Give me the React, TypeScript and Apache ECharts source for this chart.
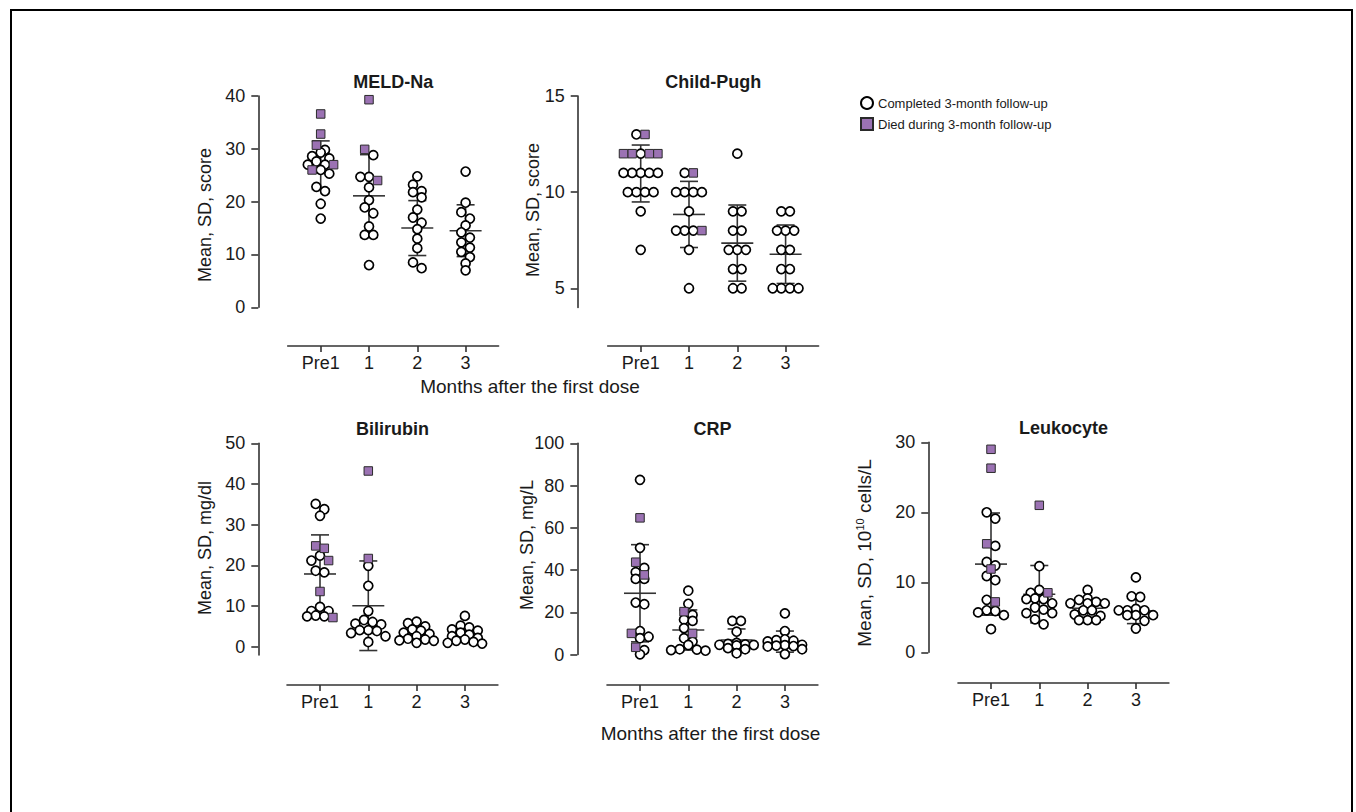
import React, { useEffect, useRef } from 'react';
import * as echarts from 'echarts';

const GROUPS = ['Pre1', '1', '2', '3'];
const COMPLETED = 'Completed 3-month follow-up';
const DIED = 'Died during 3-month follow-up';
const X_NAME = 'Months after the first dose';

// ---------- MELD-Na ----------
const meldCompleted = [
  [29.8, 29.3, 28.6, 28.2, 27.6, 27.0, 27.0, 26.0, 25.3, 22.8, 22.0, 19.6, 16.8],
  [28.8, 24.7, 24.7, 22.7, 20.3, 18.9, 17.8, 15.3, 13.7, 13.7, 8.0],
  [24.8, 23.2, 22.0, 21.8, 20.8, 18.5, 17.0, 16.0, 14.8, 13.0, 11.2, 8.5, 7.4],
  [25.7, 19.8, 18.0, 16.8, 15.5, 14.2, 13.2, 12.3, 11.3, 10.5, 9.5, 8.3, 7.0],
];
const meldDied = [[36.6, 32.8, 30.7, 27.0, 26.0], [39.3, 29.9, 24.0], [], []];
const meldMean = [26.9, 21.1, 15.0, 14.5];
const meldSD = [4.6, 7.8, 5.2, 4.9];

// ---------- Child-Pugh ----------
const cpCompleted = [
  [13, 12, 11, 11, 11, 11, 11, 10, 10, 10, 10, 9, 7],
  [11, 10, 10, 10, 10, 9, 8, 8, 8, 7, 5],
  [12, 9, 9, 8, 8, 7, 7, 7, 6, 6, 5, 5],
  [9, 9, 8, 8, 8, 7, 7, 6, 6, 5, 5, 5, 5],
];
const cpDied = [[13, 12, 12, 12, 12], [11, 8], [], []];
const cpMean = [10.97, 8.84, 7.35, 6.77];
const cpSD = [1.48, 1.72, 1.98, 1.52];

// ---------- Bilirubin ----------
const biliCompleted = [
  [35.1, 33.8, 32.2, 22.4, 21.2, 18.7, 18.3, 9.8, 8.8, 8.8, 7.7, 7.5, 7.5],
  [19.9, 15.0, 8.8, 6.6, 6.1, 5.7, 5.5, 4.1, 4.1, 3.9, 3.4, 2.6, 1.2],
  [6.2, 5.8, 5.0, 4.3, 4.0, 3.5, 3.2, 2.6, 2.0, 1.8, 1.6, 1.5, 1.0],
  [7.6, 5.2, 4.8, 4.3, 4.0, 3.5, 3.0, 2.6, 2.2, 1.8, 1.5, 1.2, 1.0, 0.8],
];
const biliDied = [[24.8, 24.2, 21.2, 13.6, 7.2], [43.2, 21.7], [], []];
const biliMean = [17.9, 10.1, 3.1, 3.0];
const biliSD = [9.6, 11.0, 1.6, 1.8];

// ---------- CRP ----------
const crpCompleted = [
  [82.7, 50.5, 41.0, 39.0, 35.8, 35.8, 24.6, 23.8, 11.1, 8.4, 7.7, 2.1, 0.1],
  [30.2, 24.0, 18.7, 16.5, 15.9, 12.5, 7.7, 6.1, 4.5, 2.5, 2.3, 2.1, 1.8],
  [15.9, 15.9, 10.8, 5.5, 5.0, 4.8, 4.6, 4.5, 4.3, 3.0, 2.5, 0.6],
  [19.5, 11.1, 7.2, 6.8, 6.5, 6.2, 4.6, 4.4, 4.2, 4.0, 3.8, 2.5, 0.2],
];
const crpDied = [[64.7, 43.7, 37.7, 10.0, 3.4], [20.3, 10.0], [], []];
const crpMean = [29.0, 11.6, 6.9, 6.1];
const crpSD = [23.0, 9.5, 5.2, 5.0];

// ---------- Leukocyte ----------
const leuCompleted = [
  [20.0, 19.1, 15.2, 12.9, 12.4, 10.9, 10.3, 7.5, 6.0, 5.9, 5.7, 5.3, 3.3],
  [12.3, 8.9, 8.5, 7.7, 7.6, 7.6, 7.0, 6.4, 6.1, 5.6, 5.6, 4.7, 4.0],
  [8.9, 7.7, 7.5, 7.2, 7.0, 7.0, 7.0, 6.0, 6.0, 5.4, 5.2, 4.6, 4.6, 4.6],
  [10.7, 8.0, 7.9, 6.2, 6.0, 6.0, 6.0, 5.3, 5.3, 5.3, 4.5, 3.4],
];
const leuDied = [[29.0, 26.3, 15.5, 11.9, 7.2], [21.0, 8.5], [], []];
const leuMean = [12.6, 8.3, 6.3, 5.9];
const leuSD = [7.3, 4.1, 1.3, 1.8];

const meldTicks = [0, 10, 20, 30, 40];
const cpTicks = [5, 10, 15];
const biliTicks = [0, 10, 20, 30, 40, 50];
const crpTicks = [0, 20, 40, 60, 80, 100];
const leuTicks = [0, 10, 20, 30];

const FONT = '"Liberation Sans", Arial, Helvetica, sans-serif';
const INK = '#1a1a1a';
const LINE = '#333333';
const PURPLE = '#9b72b3';
const COL = 48.3; // px between group centres
const PAD = 33; // px of x-axis beyond outer groups

const panels = [
  { title: 'MELD-Na', yName: 'Mean, SD, score', completed: meldCompleted, died: meldDied, mean: meldMean, sd: meldSD, min: 0, max: 40, ticks: meldTicks,
    axisX: 258.3, pre1: 320.7, top: 96, bottom: 307.3, xAxisY: 346, nameX: 205, nameY: 215 },
  { title: 'Child-Pugh', yName: 'Mean, SD, score', completed: cpCompleted, died: cpDied, mean: cpMean, sd: cpSD, min: 4, max: 15, ticks: cpTicks,
    axisX: 577.7, pre1: 640.7, top: 96, bottom: 307.5, xAxisY: 346, nameX: 533, nameY: 210 },
  { title: 'Bilirubin', yName: 'Mean, SD, mg/dl', completed: biliCompleted, died: biliDied, mean: biliMean, sd: biliSD, min: -2, max: 50, ticks: biliTicks,
    axisX: 258.3, pre1: 320, top: 443.3, bottom: 655, xAxisY: 685, nameX: 205, nameY: 548 },
  { title: 'CRP', yName: 'Mean, SD, mg/L', completed: crpCompleted, died: crpDied, mean: crpMean, sd: crpSD, min: 0, max: 100, ticks: crpTicks,
    axisX: 577.3, pre1: 640, top: 443.3, bottom: 654.5, xAxisY: 685, nameX: 527, nameY: 545 },
  { title: 'Leukocyte', yName: '', completed: leuCompleted, died: leuDied, mean: leuMean, sd: leuSD, min: 0, max: 30, ticks: leuTicks,
    axisX: 928.3, pre1: 991, top: 442.3, bottom: 652.3, xAxisY: 683, nameX: 864, nameY: 553 },
];

// Row-based dot layout (points with similar values share a centred row).
function dotRows(vals: number[], ppu: number, binPx: number, sep: number, maxRow: number): number[] {
  const order = vals.map((_, i) => i).sort((a, b) => vals[b] - vals[a]);
  const out: number[] = new Array(vals.length).fill(0);
  let row: number[] = [];
  const flush = () => {
    const n = row.length;
    const slots = Array.from({ length: n }, (_, k) => (k - (n - 1) / 2) * sep)
      .sort((a, b) => Math.abs(a) - Math.abs(b) || a - b);
    row.forEach((idx, k) => (out[idx] = slots[k]));
    row = [];
  };
  for (const i of order) {
    if (row.length && ((vals[row[0]] - vals[i]) * ppu > binPx || row.length >= maxRow)) flush();
    row.push(i);
  }
  if (row.length) flush();
  return out;
}

function buildOption() {
  const grid: any[] = [];
  const xAxis: any[] = [];
  const yAxis: any[] = [];
  const series: any[] = [];
  const graphic: any[] = [];
  const axisLineStyle = { color: LINE, width: 1.6 };
  const labelStyle = { fontSize: 18, fontFamily: FONT, color: INK };

  panels.forEach((p, i) => {
    const gridLeft = p.pre1 - PAD;
    const width = 3 * COL + 2 * PAD;
    const height = p.bottom - p.top;
    grid.push({ left: gridLeft, top: p.top, width, height, containLabel: false });
    xAxis.push({
      type: 'value', gridIndex: i, min: -PAD / COL, max: 3 + PAD / COL,
      offset: p.xAxisY - p.bottom,
      axisLine: { show: true, onZero: false, lineStyle: axisLineStyle },
      axisTick: { show: true, length: 6, customValues: [0, 1, 2, 3], lineStyle: axisLineStyle },
      axisLabel: { show: true, customValues: [0, 1, 2, 3], margin: 8, formatter: (v: number) => GROUPS[Math.round(v)] ?? '', ...labelStyle },
      splitLine: { show: false },
    });
    yAxis.push({
      type: 'value', gridIndex: i, min: p.min, max: p.max,
      offset: gridLeft - p.axisX,
      axisLine: { show: true, onZero: false, lineStyle: axisLineStyle },
      axisTick: { show: true, length: 7, customValues: p.ticks, lineStyle: axisLineStyle },
      axisLabel: { show: true, customValues: p.ticks, margin: 13, ...labelStyle },
      splitLine: { show: false },
    });

    const ppu = height / (p.max - p.min);
    const compPts: number[][] = [];
    const diedPts: number[][] = [];
    for (let g = 0; g < 4; g++) {
      const all = [...p.completed[g], ...p.died[g]];
      const dx = dotRows(all, ppu, 6.5, 8.6, 5);
      all.forEach((v, k) => {
        const pt = [g + dx[k] / COL, v];
        if (k < p.completed[g].length) compPts.push(pt);
        else diedPts.push(pt);
      });
    }
    series.push({
      type: 'custom', name: 'Mean ± SD', xAxisIndex: i, yAxisIndex: i, z: 1, clip: false,
      data: p.mean.map((m, g) => [g, m, p.sd[g]]),
      encode: { x: 0, y: 1 },
      renderItem: (_params: any, api: any) => {
        const g = api.value(0);
        const m = api.value(1);
        const s = api.value(2);
        const c = api.coord([g, m]);
        const yt = api.coord([g, m + s])[1];
        const yb = api.coord([g, m - s])[1];
        const st = { stroke: LINE, lineWidth: 1.6 };
        return {
          type: 'group',
          children: [
            { type: 'line', shape: { x1: c[0] - 16, y1: c[1], x2: c[0] + 16, y2: c[1] }, style: st },
            { type: 'line', shape: { x1: c[0], y1: yt, x2: c[0], y2: yb }, style: st },
            { type: 'line', shape: { x1: c[0] - 9, y1: yt, x2: c[0] + 9, y2: yt }, style: st },
            { type: 'line', shape: { x1: c[0] - 9, y1: yb, x2: c[0] + 9, y2: yb }, style: st },
          ],
        };
      },
    });
    series.push({
      type: 'scatter', name: COMPLETED, xAxisIndex: i, yAxisIndex: i, z: 3,
      symbol: 'circle', symbolSize: 9, data: compPts,
      itemStyle: { color: '#ffffff', borderColor: '#000000', borderWidth: 1.7, opacity: 1 },
    });
    series.push({
      type: 'scatter', name: DIED, xAxisIndex: i, yAxisIndex: i, z: 4,
      symbol: 'rect', symbolSize: 8.5, data: diedPts,
      itemStyle: { color: PURPLE, borderColor: '#2a2a2a', borderWidth: 1, opacity: 1 },
    });

    graphic.push({
      type: 'text', x: p.pre1 + 1.5 * COL, y: p.top - 14,
      style: { text: p.title, fontSize: 18, fontWeight: 'bold', fontFamily: FONT, fill: INK, align: 'center', verticalAlign: 'middle' },
    });
    if (p.yName) {
      graphic.push({
        type: 'text', x: p.nameX, y: p.nameY, rotation: Math.PI / 2,
        style: { text: p.yName, fontSize: 18, fontFamily: FONT, fill: INK, align: 'center', verticalAlign: 'middle' },
      });
    } else {
      graphic.push({
        type: 'text', x: p.nameX, y: p.nameY, rotation: Math.PI / 2,
        style: {
          text: '{a|Mean, SD, 10}{s|10}{a| cells/L}',
          align: 'center', verticalAlign: 'middle',
          rich: {
            a: { fontSize: 19, fontFamily: FONT, fill: INK, color: INK },
            s: { fontSize: 11, fontFamily: FONT, fill: INK, color: INK, verticalAlign: 'top' },
          },
        },
      });
    }
  });

  graphic.push({
    type: 'text', x: 530, y: 386,
    style: { text: X_NAME, fontSize: 19, fontFamily: FONT, fill: INK, align: 'center', verticalAlign: 'middle' },
  });
  graphic.push({
    type: 'text', x: 710.5, y: 733,
    style: { text: X_NAME, fontSize: 19, fontFamily: FONT, fill: INK, align: 'center', verticalAlign: 'middle' },
  });
  graphic.push({
    type: 'rect', silent: true, z: -10,
    shape: { x: 11, y: 10, width: 1341, height: 900 },
    style: { fill: 'none', stroke: '#000', lineWidth: 2 },
  });

  return {
    animation: false,
    backgroundColor: '#ffffff',
    legend: {
      orient: 'vertical', left: 855, top: 91, itemWidth: 12, itemHeight: 12, itemGap: 7,
      selectedMode: false,
      textStyle: { fontSize: 13, fontFamily: FONT, color: INK },
      data: [
        { name: COMPLETED, icon: 'circle' },
        { name: DIED, icon: 'rect' },
      ],
    },
    grid, xAxis, yAxis, series, graphic,
  };
}

export default function App() {
  const ref = useRef<HTMLDivElement>(null);
  useEffect(() => {
    if (!ref.current) return;
    const chart = echarts.init(ref.current, undefined, { renderer: 'svg' });
    chart.setOption(buildOption() as any);
    return () => chart.dispose();
  }, []);
  return (
    <div
      ref={ref}
      style={{ position: 'fixed', left: 0, top: 0, width: 1356, height: 812, background: '#fff' }}
    />
  );
}
